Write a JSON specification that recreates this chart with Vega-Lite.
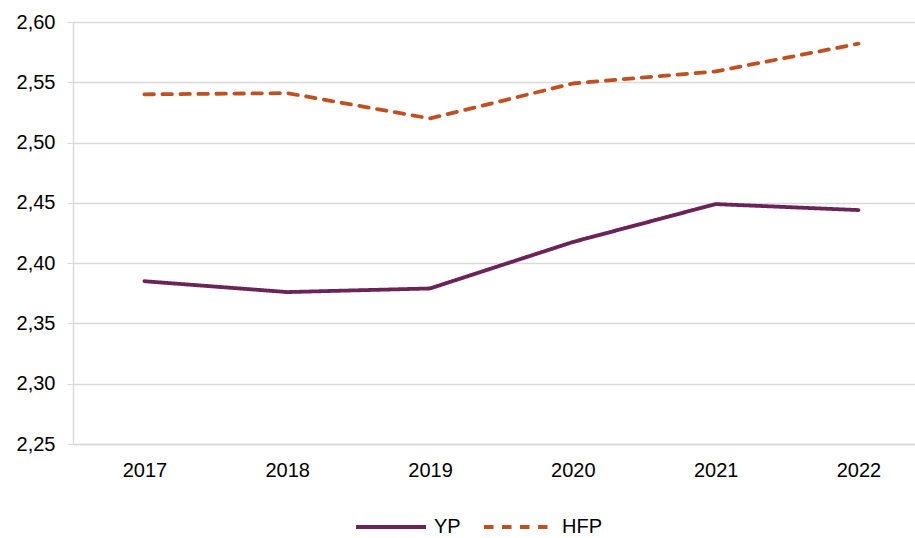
{
  "$schema": "https://vega.github.io/schema/vega-lite/v6.json",
  "width": 842,
  "height": 422,
  "autosize": {"type": "none"},
  "padding": {"left": 73, "top": 22, "right": 0, "bottom": 94},
  "background": "white",
  "config": {
    "locale": {"number": {"decimal": ",", "thousands": ".", "grouping": [3], "currency": ["", " €"]}},
    "view": {"stroke": null},
    "font": "Liberation Sans",
    "axis": {"labelFont": "Liberation Sans", "labelFontSize": 20, "labelColor": "#000000", "gridColor": "#D9D9D9", "gridWidth": 1.3, "domainColor": "#D9D9D9", "domainWidth": 1.3, "tickColor": "#D9D9D9", "title": null}
  },
  "data": {
    "values": [
      {"year": 2017, "series": "YP", "value": 2.385},
      {"year": 2018, "series": "YP", "value": 2.376},
      {"year": 2019, "series": "YP", "value": 2.379},
      {"year": 2020, "series": "YP", "value": 2.4175},
      {"year": 2021, "series": "YP", "value": 2.449},
      {"year": 2022, "series": "YP", "value": 2.444},
      {"year": 2017, "series": "HFP", "value": 2.540},
      {"year": 2018, "series": "HFP", "value": 2.541},
      {"year": 2019, "series": "HFP", "value": 2.520},
      {"year": 2020, "series": "HFP", "value": 2.549},
      {"year": 2021, "series": "HFP", "value": 2.559},
      {"year": 2022, "series": "HFP", "value": 2.582}
    ]
  },
  "mark": {"type": "line", "strokeWidth": 3.8, "strokeCap": "round", "strokeJoin": "round"},
  "encoding": {
    "x": {
      "field": "year", "type": "quantitative",
      "scale": {"domain": [2016.5, 2022.396], "nice": false, "zero": false},
      "axis": {"values": [2017, 2018, 2019, 2020, 2021, 2022], "format": "d", "grid": false, "ticks": false, "labelPadding": 16, "domain": true, "labelFlush": false}
    },
    "y": {
      "field": "value", "type": "quantitative",
      "scale": {"domain": [2.25, 2.6], "nice": false, "zero": false},
      "axis": {"values": [2.25, 2.3, 2.35, 2.4, 2.45, 2.5, 2.55, 2.6], "format": ".2f", "tickSize": 6, "labelPadding": 12, "domain": true}
    },
    "color": {
      "field": "series", "type": "nominal",
      "scale": {"domain": ["YP", "HFP"], "range": ["#6B2458", "#C0501F"]},
      "legend": {"title": null, "orient": "none", "direction": "horizontal", "legendX": 281, "legendY": 468, "symbolType": "stroke", "symbolSize": 4900, "symbolStrokeWidth": 4, "labelFontSize": 20, "labelFont": "Liberation Sans", "labelColor": "#000000", "labelOffset": 6, "columnPadding": 15}
    },
    "strokeDash": {
      "field": "series", "type": "nominal",
      "scale": {"domain": ["YP", "HFP"], "range": [[1, 0], [9.5, 8.5]]},
      "legend": null
    }
  }
}
